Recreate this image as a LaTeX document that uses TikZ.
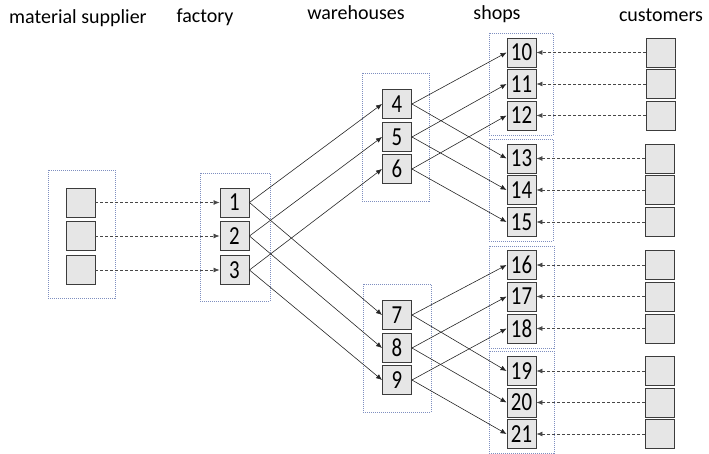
\documentclass[tikz,border=0pt]{standalone}
\usepackage{fontspec}
\setmainfont{Carlito}
\newfontfamily\numfont[FakeStretch=0.8]{Carlito}
\usetikzlibrary{arrows.meta}

\definecolor{boxfill}{HTML}{E6E6E6}
\definecolor{boxline}{HTML}{3C3C3C}
\definecolor{groupline}{HTML}{7F8FC0}
\definecolor{flowline}{HTML}{262626}

\begin{document}
\begin{tikzpicture}[x=1pt,y=-1pt,
  unit/.style={draw=boxline, fill=boxfill, line width=0.9pt, minimum size=29pt,
    inner sep=0pt, font=\numfont\fontsize{26}{26}\selectfont},
  group/.style={draw=groupline, line width=0.7pt, dash pattern=on 1pt off 1pt},
  title/.style={anchor=base, inner sep=0pt, font=\fontsize{20}{24}\selectfont},
  flow/.style={draw=flowline, line width=0.6pt, -{Latex[length=6pt,width=5pt]}},
  order/.style={draw=flowline!85, line width=0.7pt, dash pattern=on 3pt off 2pt,
    -{Latex[length=6pt,width=5pt]}},
]
\useasboundingbox (0,0) rectangle (709,454);

% column titles
\node[title] (tsup)  at (78,24)  {material supplier};
\node[title] (tfac)  at (205,23) {factory};
\node[title] (twh)   at (356,20) {warehouses};
\node[title] (tshop) at (497,20) {shops};
\node[title] (tcust) at (661,22) {customers};

% dotted group frames
\draw[group] (48,170) rectangle (115,298);
\draw[group] (200,173) rectangle (270,301);
\draw[group] (362,73) rectangle (429,201);
\draw[group] (363,284) rectangle (431,412);
\draw[group] (489,33) rectangle (553,135);
\draw[group] (489,139) rectangle (553,241);
\draw[group] (489,246) rectangle (554,348);
\draw[group] (489,351) rectangle (554,453);

% material suppliers and factory lines
\foreach \i/\y in {1/202.5, 2/236, 3/270} {
  \node[unit] (s\i) at (80.5,\y) {};
  \node[unit] (n\i) at (234.5,\y) {\i};
  \draw[order] (s\i) -- (n\i);
}

% warehouses
\foreach \i/\y in {4/104, 5/137, 6/169, 7/315, 8/348, 9/380}
  \node[unit] (n\i) at (397,\y) {\i};

% shops with their customers
\foreach \i/\y/\cx in {10/52.5/661, 11/84/661, 12/115.5/661, 13/158.5/660,
    14/190/660, 15/222/660, 16/265/660, 17/296.5/660, 18/328.5/660,
    19/371/660, 20/402.5/660, 21/434/660} {
  \node[unit] (n\i) at (521.5,\y) {\i};
  \node[unit] (c\i) at (\cx,\y) {};
  \draw[order] (c\i) -- (n\i);
}

% factory -> warehouses
\foreach \a/\b/\c in {1/4/7, 2/5/8, 3/6/9} {
  \draw[flow] (n\a.east) -- (n\b.west);
  \draw[flow] (n\a.east) -- (n\c.west);
}

% warehouses -> shops
\foreach \a/\b/\c in {4/10/13, 5/11/14, 6/12/15, 7/16/19, 8/17/20, 9/18/21} {
  \draw[flow] (n\a.east) -- (n\b.west);
  \draw[flow] (n\a.east) -- (n\c.west);
}
\end{tikzpicture}
\end{document}
